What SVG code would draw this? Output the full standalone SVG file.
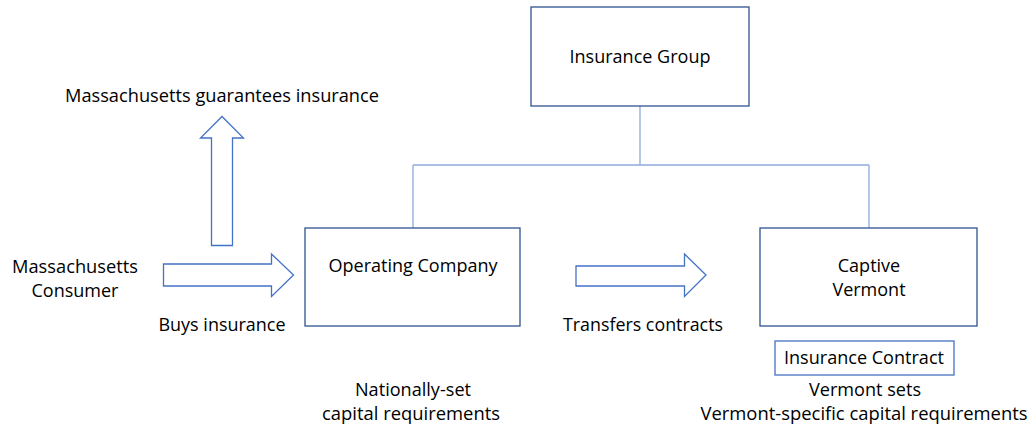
<svg xmlns="http://www.w3.org/2000/svg" width="1031" height="429" viewBox="0 0 1031 429">
<style>
.box{fill:#fff;stroke:#2F528F;stroke-width:1.3}
.box2{fill:#fff;stroke:#4472C4;stroke-width:1.3}
.arr{fill:#fff;stroke:#4472C4;stroke-width:1.3;stroke-linejoin:miter}
.con{fill:none;stroke:#8FAADC;stroke-width:1.3}
text{font-family:"Open Sans","Noto Sans","Liberation Sans",sans-serif;font-size:18px;fill:#000;text-anchor:middle}
</style>
<rect width="1031" height="429" fill="#fff"/>
<g id="connectors">
<path class="con" d="M640 106V165M413 165H869M413 165V228M869 165V228"/>
</g>
<g id="insurance-group">
<rect class="box" x="531" y="7" width="218" height="99"/>
<text x="640" y="63" textLength="141" lengthAdjust="spacingAndGlyphs">Insurance Group</text>
</g>
<g id="operating-company">
<rect class="box" x="305" y="228" width="215" height="98"/>
<text x="413" y="272" textLength="169" lengthAdjust="spacingAndGlyphs">Operating Company</text>
</g>
<g id="captive">
<rect class="box" x="760" y="228" width="217" height="98"/>
<text x="869" y="272">Captive</text>
<text x="869" y="296">Vermont</text>
</g>
<g id="insurance-contract">
<rect class="box2" x="775" y="341" width="179" height="34"/>
<text x="864" y="364" textLength="160" lengthAdjust="spacingAndGlyphs">Insurance Contract</text>
</g>
<g id="arrow-up">
<path class="arr" d="M211.5 245.5V138H200.5L222 116.5L243.5 138H232.5V245.5Z"/>
</g>
<g id="arrow-buys">
<path class="arr" d="M163.5 264V286H271.5V296.5L293.5 275L271.5 254V264Z"/>
</g>
<g id="arrow-transfers">
<path class="arr" d="M576 266V286H684.5V296.5L706 275L684.5 254V266Z"/>
</g>
<g id="labels">
<text x="222" y="102" textLength="314" lengthAdjust="spacingAndGlyphs">Massachusetts guarantees insurance</text>
<text x="75" y="273" textLength="126" lengthAdjust="spacingAndGlyphs">Massachusetts</text>
<text x="75" y="297">Consumer</text>
<text x="222" y="331" textLength="127" lengthAdjust="spacingAndGlyphs">Buys insurance</text>
<text x="643" y="331" textLength="160" lengthAdjust="spacingAndGlyphs">Transfers contracts</text>
<text x="413" y="396" textLength="116" lengthAdjust="spacingAndGlyphs">Nationally-set</text>
<text x="411" y="420" textLength="178" lengthAdjust="spacingAndGlyphs">capital requirements</text>
<text x="865" y="396" textLength="112" lengthAdjust="spacingAndGlyphs">Vermont sets</text>
<text x="864" y="420" textLength="327" lengthAdjust="spacingAndGlyphs">Vermont-specific capital requirements</text>
</g>
</svg>
